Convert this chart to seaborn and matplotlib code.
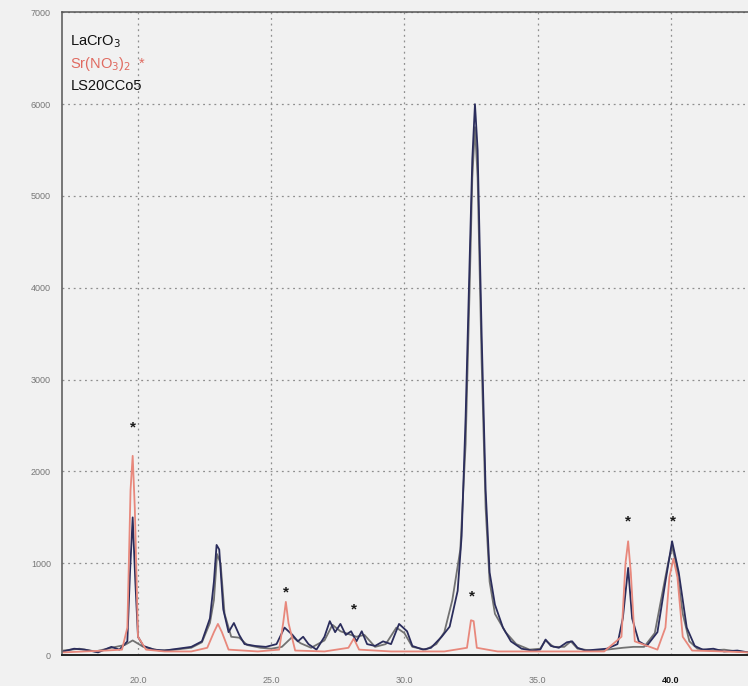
import matplotlib
matplotlib.use("Agg")
import matplotlib.pyplot as plt
import seaborn as sns
import pandas as pd

# ---------------- data ----------------
series_names = ["LaCrO$_3$", "Sr(NO$_3$)$_2$", "LS20CCo5"]

lacro3_x = [17.2, 17.8, 18.4, 19.0, 19.5, 19.8, 20.2, 20.8, 21.4, 22.0, 22.4, 22.7,
            22.85, 22.97, 23.1, 23.25, 23.5, 23.8, 24.1, 24.6, 25.0, 25.4, 25.8,
            26.1, 26.5, 27.0, 27.3, 27.6, 27.9, 28.2, 28.5, 28.9, 29.3, 29.7, 30.0,
            30.3, 30.8, 31.2, 31.5, 31.8, 32.1, 32.3, 32.45, 32.55, 32.65, 32.75,
            32.9, 33.05, 33.2, 33.4, 33.8, 34.2, 34.7, 35.1, 35.3, 35.6, 36.0, 36.25,
            36.5, 37.0, 37.6, 38.2, 38.6, 39.0, 39.4, 39.7, 39.9, 40.05, 40.2, 40.45,
            40.7, 41.0, 41.5, 42.0, 42.5, 42.9]
lacro3_y = [50, 70, 40, 80, 110, 160, 90, 50, 60, 80, 140, 350,
            600, 1100, 1000, 450, 200, 190, 110, 80, 70, 90, 200,
            130, 80, 160, 330, 260, 230, 200, 220, 90, 120, 300, 240,
            90, 60, 120, 250, 600, 1150, 2300, 4000, 5200, 5750, 5200,
            3200, 1600, 800, 450, 250, 120, 60, 70, 160, 90, 90, 150,
            70, 50, 60, 80, 90, 90, 240, 700, 1000, 1180, 1000, 450,
            150, 70, 50, 60, 40, 30]

srno3_x = [17.2, 18.0, 18.8, 19.4, 19.6, 19.72, 19.8, 19.88, 20.0, 20.3, 21.0, 22.0,
           22.6, 22.85, 23.0, 23.15, 23.4, 24.5, 25.3, 25.45, 25.55, 25.65, 25.9,
           27.0, 27.9, 28.1, 28.3, 29.5, 31.5, 32.35, 32.5, 32.6, 32.72, 33.5, 35.0,
           37.5, 38.15, 38.3, 38.4, 38.5, 38.65, 39.5, 39.8, 39.95, 40.1, 40.25,
           40.45, 40.8, 42.0, 42.9]
srno3_y = [30, 40, 50, 60, 300, 1800, 2170, 1600, 200, 60, 40, 40,
           80, 250, 340, 250, 60, 40, 60, 350, 580, 350, 50,
           40, 80, 180, 60, 40, 40, 80, 380, 370, 80, 40, 40,
           40, 200, 1000, 1240, 900, 150, 60, 300, 850, 1050, 850,
           200, 50, 40, 30]

ls20_x = [17.2, 17.6, 18.0, 18.5, 19.0, 19.3, 19.6, 19.7, 19.8, 19.9, 20.0, 20.2,
          20.6, 21.0, 21.5, 22.0, 22.4, 22.7, 22.85, 22.95, 23.05, 23.2, 23.4, 23.6,
          23.8, 24.0, 24.4, 24.8, 25.2, 25.5, 25.8, 26.0, 26.2, 26.4, 26.7, 27.0,
          27.2, 27.4, 27.6, 27.8, 28.0, 28.2, 28.4, 28.6, 28.9, 29.2, 29.5, 29.8,
          30.1, 30.3, 30.7, 31.0, 31.4, 31.7, 32.0, 32.15, 32.3, 32.45, 32.55, 32.65,
          32.75, 32.9, 33.05, 33.2, 33.4, 33.7, 34.0, 34.4, 34.8, 35.1, 35.3, 35.5,
          35.8, 36.1, 36.3, 36.5, 36.8, 37.2, 37.6, 38.0, 38.2, 38.4, 38.55, 38.8,
          39.1, 39.5, 39.8, 40.05, 40.3, 40.6, 40.9, 41.2, 41.6, 42.0, 42.5, 42.9]
ls20_y = [40, 70, 60, 30, 90, 60, 150, 900, 1500, 800, 200, 100,
          60, 50, 70, 90, 150, 400, 800, 1200, 1150, 500, 250, 350,
          220, 120, 100, 90, 120, 300, 220, 150, 200, 120, 60, 200,
          370, 250, 340, 220, 260, 150, 260, 120, 100, 150, 120, 340,
          260, 100, 60, 80, 200, 310, 700, 1300, 2600, 4300, 5400, 6000,
          5500, 3500, 1800, 900, 550, 300, 150, 70, 50, 60, 170, 100,
          80, 140, 150, 80, 50, 60, 70, 120, 400, 950, 400, 150,
          100, 250, 800, 1240, 900, 300, 100, 60, 70, 40, 50, 30]

palette = ["#727272", "#e8887c", "#2b2d5c"]

star_x = [19.8, 25.55, 28.1, 32.55, 38.4, 40.1]
star_y = [2480, 680, 500, 640, 1460, 1460]

y_ticks = [0, 1000, 2000, 3000, 4000, 5000, 6000, 7000]
y_tick_labels = ["0", "1000", "2000", "3000", "4000", "5000", "6000", "7000"]
x_ticks = [20.0, 25.0, 30.0, 35.0, 40.0]
x_tick_labels = ["20.0", "25.0", "30.0", "35.0", "40.0"]

# ---------------- build long-form table ----------------
frames = []
for name, xs, ys in [(series_names[0], lacro3_x, lacro3_y),
                     (series_names[1], srno3_x, srno3_y),
                     (series_names[2], ls20_x, ls20_y)]:
    frames.append(pd.DataFrame({"two_theta": xs, "intensity": ys, "sample": name}))
df = pd.concat(frames, ignore_index=True)

# ---------------- plot ----------------
sns.set_style("white")
plt.rcParams["font.family"] = ["Liberation Sans", "DejaVu Sans"]

fig = plt.figure(figsize=(7.48, 6.86), dpi=100)
fig.patch.set_facecolor("#f1f1f1")
ax = fig.add_axes([0.083, 0.045, 0.917, 0.937])
ax.set_facecolor("#f1f1f1")

draw_order = [series_names[0], series_names[2], series_names[1]]
for name in draw_order:
    sub = df[df["sample"] == name]
    sns.lineplot(data=sub, x="two_theta", y="intensity", ax=ax,
                 color=palette[series_names.index(name)], linewidth=1.3,
                 errorbar=None, legend=False)

for sx, sy in zip(star_x, star_y):
    ax.text(sx, sy, "*", ha="center", va="center", fontsize=11,
            fontweight="bold", color="#1a1a1a")

ax.set_xlim(17.15, 42.9)
ax.set_ylim(0, 7000)
ax.set_xticks(x_ticks)
ax.set_xticklabels(x_tick_labels, fontsize=6.5, color="#777777")
ax.get_xticklabels()[-1].set_fontweight("bold")
ax.get_xticklabels()[-1].set_color("#111111")
ax.set_yticks(y_ticks)
ax.set_yticklabels(y_tick_labels, fontsize=6.5, color="#777777")
ax.tick_params(axis="x", direction="out", length=11, width=1.0, color="#444444", pad=4)
ax.tick_params(axis="y", direction="out", length=6, width=1.0, color="#555555", pad=2)
ax.set_xlabel("")
ax.set_ylabel("")

ax.grid(True, linestyle=(0, (1.5, 3)), color="#8f8f8f", linewidth=0.9)
for side in ["left", "top", "bottom"]:
    ax.spines[side].set_visible(True)
    ax.spines[side].set_color("#555555")
    ax.spines[side].set_linewidth(1.1)
ax.spines["bottom"].set_color("#222222")
ax.spines["bottom"].set_linewidth(1.4)
ax.spines["right"].set_visible(False)

# legend-like labels
ax.text(0.012, 0.955, series_names[0], transform=ax.transAxes, fontsize=10.5,
        color="#111111", va="center", ha="left")
ax.text(0.012, 0.92, series_names[1] + "  *", transform=ax.transAxes, fontsize=10.5,
        color="#e06a60", va="center", ha="left")
ax.text(0.012, 0.886, series_names[2], transform=ax.transAxes, fontsize=10.5,
        color="#111111", va="center", ha="left")

fig.savefig("out.png", dpi=100, facecolor=fig.get_facecolor())
